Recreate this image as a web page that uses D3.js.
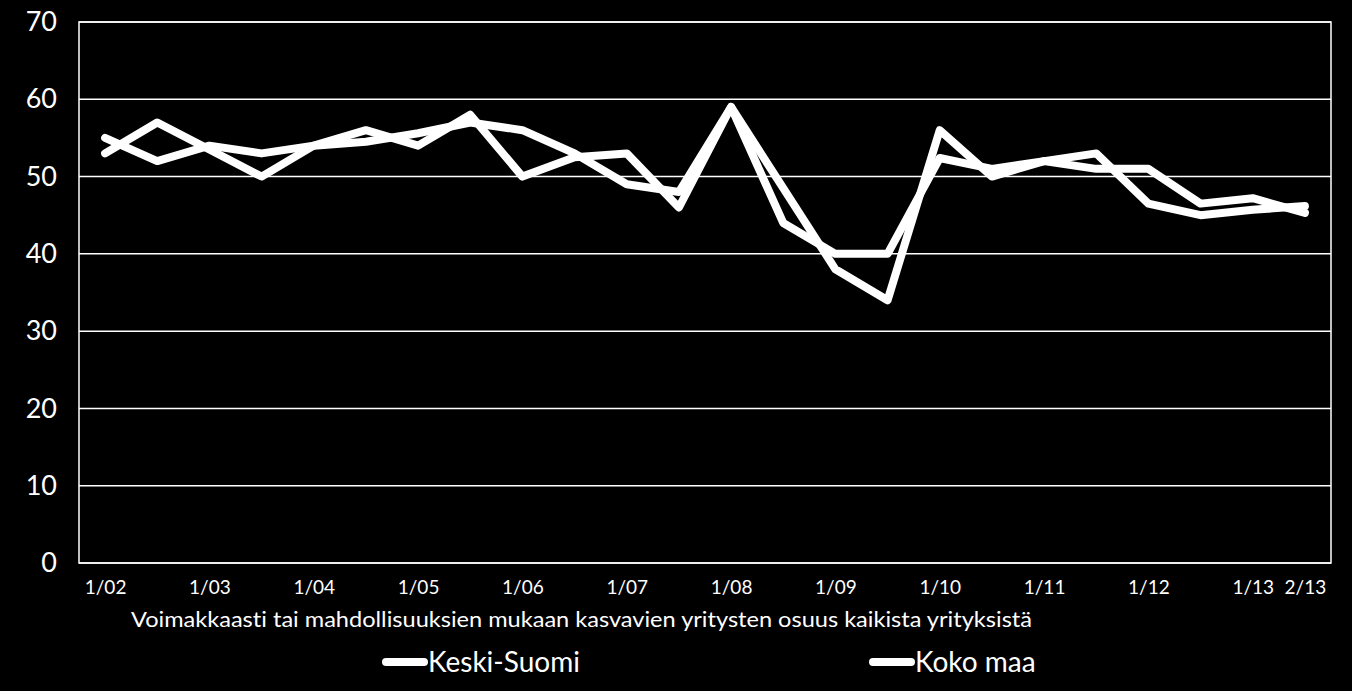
<!DOCTYPE html>
<meta charset="utf-8">
<script src="https://d3js.org/d3.v7.min.js"></script>
<style>
  body { margin: 0; background: #000; }
  text { font-variant-ligatures: none; }
</style>
<div id="chart"></div>
<script>

    // categories: half-year survey rounds 1/02 ... 7/12, then 1/13 and 2/13
    var categories = ["1/02","7/02","1/03","7/03","1/04","7/04","1/05","7/05","1/06","7/06",
                      "1/07","7/07","1/08","7/08","1/09","7/09","1/10","7/10","1/11","7/11",
                      "1/12","7/12","1/13","2/13"];
    var tickLabels = ["1/02","1/03","1/04","1/05","1/06","1/07","1/08","1/09","1/10","1/11","1/12","1/13","2/13"];
    var yTicks = [0, 10, 20, 30, 40, 50, 60, 70];

    var keskiSuomi = [53, 57, 53.5, 50, 54, 56, 54, 58, 50, 52.5, 53, 46, 59, 48.5, 38, 34,
                      56, 50, 52, 53, 46.5, 45, 45.7, 46.2];
    var kokoMaa    = [55, 52, 54, 53, 54, 54.5, 55.6, 57, 56, 53, 49, 48, 59, 44, 40, 40,
                      52.4, 51, 52, 51, 51, 46.5, 47.2, 45.3];

    var seriesNames = ["Keski-Suomi", "Koko maa"];
    var title = "Voimakkaasti tai mahdollisuuksien mukaan kasvavien yritysten osuus kaikista yrityksistä";

    var W = 1352, H = 691;
    var margin = {top: 22, right: 21, bottom: 128, left: 79},
        width = W - margin.left - margin.right,
        height = H - margin.top - margin.bottom;

    var svg = d3.select("#chart")
      .append("svg")
        .attr("width", W)
        .attr("height", H)
        .style("background", "#000");

    var g = svg.append("g")
        .attr("transform", "translate(" + margin.left + "," + margin.top + ")");

    var x = d3.scalePoint()
        .domain(categories)
        .range([0, width])
        .padding(0.5);

    var y = d3.scaleLinear()
        .domain([0, 70])
        .range([height, 0]);

    // gridlines
    g.selectAll("line.grid")
      .data(yTicks)
      .enter()
      .append("line")
        .attr("class", "grid")
        .attr("x1", 0)
        .attr("x2", width)
        .attr("y1", function(d) { return y(d); })
        .attr("y2", function(d) { return y(d); })
        .style("stroke", "#fff")
        .style("stroke-width", 1.5);

    // plot frame
    g.append("rect")
        .attr("x", 0).attr("y", 0)
        .attr("width", width).attr("height", height)
        .style("fill", "none")
        .style("stroke", "#fff")
        .style("stroke-width", 1.5);

    // y axis labels
    var yAxis = g.append("g")
        .call(d3.axisLeft(y).tickValues(yTicks).tickSize(0).tickPadding(22).tickFormat(d3.format("d")));
    yAxis.select(".domain").remove();
    yAxis.selectAll("text")
        .style("fill", "#fff")
        .style("font-family", "Lato, sans-serif")
        .style("font-size", "27px");

    // x axis labels
    var xAxis = g.append("g")
        .attr("transform", "translate(0," + height + ")")
        .call(d3.axisBottom(x).tickValues(tickLabels).tickSize(0).tickPadding(18));
    xAxis.select(".domain").remove();
    xAxis.selectAll("text")
        .style("fill", "#fff")
        .style("font-family", "Lato, sans-serif")
        .style("font-size", "19px");

    // lines
    var line = d3.line()
        .x(function(d, i) { return x(categories[i]); })
        .y(function(d) { return y(d); });

    [kokoMaa, keskiSuomi].forEach(function(s) {
      g.append("path")
          .datum(s)
          .attr("d", line)
          .style("fill", "none")
          .style("stroke", "#fff")
          .style("stroke-width", 8)
          .style("stroke-linejoin", "round")
          .style("stroke-linecap", "round");
    });

    // axis title
    svg.append("text")
        .attr("x", 131)
        .attr("y", 627)
        .attr("textLength", 901)
        .attr("lengthAdjust", "spacingAndGlyphs")
        .style("fill", "#fff")
        .style("font-family", "Lato, sans-serif")
        .style("font-size", "21px")
        .text(title);

    // legend
    var legendX = [386, 873];
    seriesNames.forEach(function(name, i) {
      svg.append("line")
          .attr("x1", legendX[i]).attr("x2", legendX[i] + 38)
          .attr("y1", 662).attr("y2", 662)
          .style("stroke", "#fff")
          .style("stroke-width", 8)
          .style("stroke-linecap", "round");
      svg.append("text")
          .attr("x", legendX[i] + 42)
          .attr("y", 672)
          .style("fill", "#fff")
          .style("font-family", "Lato, sans-serif")
          .style("font-size", "28px")
          .text(name);
    });

</script>
